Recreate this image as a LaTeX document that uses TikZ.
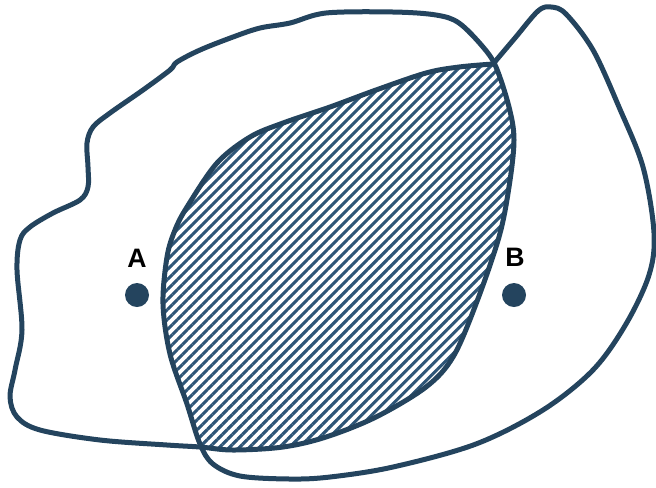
\documentclass[tikz,border=0pt]{standalone}
\usepackage{fontspec}
\setmainfont{Liberation Sans}
\usepackage{xcolor}
\usetikzlibrary{patterns.meta}
\definecolor{setblue}{HTML}{24445E}
\definecolor{hatchblue}{HTML}{2D5577}

\tikzset{
    blob/.style={draw=setblue, line width=3.75pt, line join=round},
    hatch/.style={pattern={Lines[angle=45, distance=5.3pt, line width=2.3pt]}, pattern color=hatchblue},
    dot/.style={circle, fill=setblue, inner sep=0, minimum size=18pt},
    ptlabel/.style={font=\bfseries\fontsize{20}{24}\selectfont, inner sep=0}
}

\begin{document}
\begin{tikzpicture}[x=0.75pt, y=-0.75pt]
    \useasboundingbox (0,0) rectangle (656,487);

    % the two sets
    \path[save path=\leftblob] plot[smooth cycle, tension=0.55] coordinates {
        (326,13) (393,12) (436,15) (459,23) (483,47) (496,67) (509,107) (514,140)
        (509,187) (499,237) (476,304) (453,357) (426,387) (376,417) (326,437)
        (283,447) (233,450) (200,447) (167,445) (100,440) (40,430) (17,417)
        (10,397) (15,370) (22,330) (17,270) (20,240) (30,227) (53,213) (80,200)
        (88,187) (88,167) (87,143) (93,127) (110,113) (143,90) (170,70) (177,62)
        (200,50) (233,37) (260,28) (290,23)};
    \path[save path=\rightblob] plot[smooth, tension=0.55] coordinates {
        (493,64) (515,38) (538,11) (551,7) (566,14) (593,50) (619,107) (643,167)
        (654,233) (649,275) (626,324) (593,370) (543,410) (476,444) (393,467)
        (330,477) (290,479) (240,476) (213,464) (200,444) (187,404) (170,354)
        (163,304) (167,257) (175,230) (187,207) (217,163) (250,137) (283,123)
        (330,107) (376,90) (426,73) (459,67) (493,64)} -- cycle;

    % overlap
    \begin{scope}
        \clip[use path=\leftblob];
        \fill[hatch, use path=\rightblob];
    \end{scope}

    \path[blob, use path=\leftblob];
    \path[blob, use path=\rightblob];

    % points
    \node[dot] (A) at (137,295) {};
    \node[dot] (B) at (514,295) {};
    \node[ptlabel] (Alabel) at (137,258) {A};
    \node[ptlabel] (Blabel) at (515,257) {B};
\end{tikzpicture}
\end{document}
